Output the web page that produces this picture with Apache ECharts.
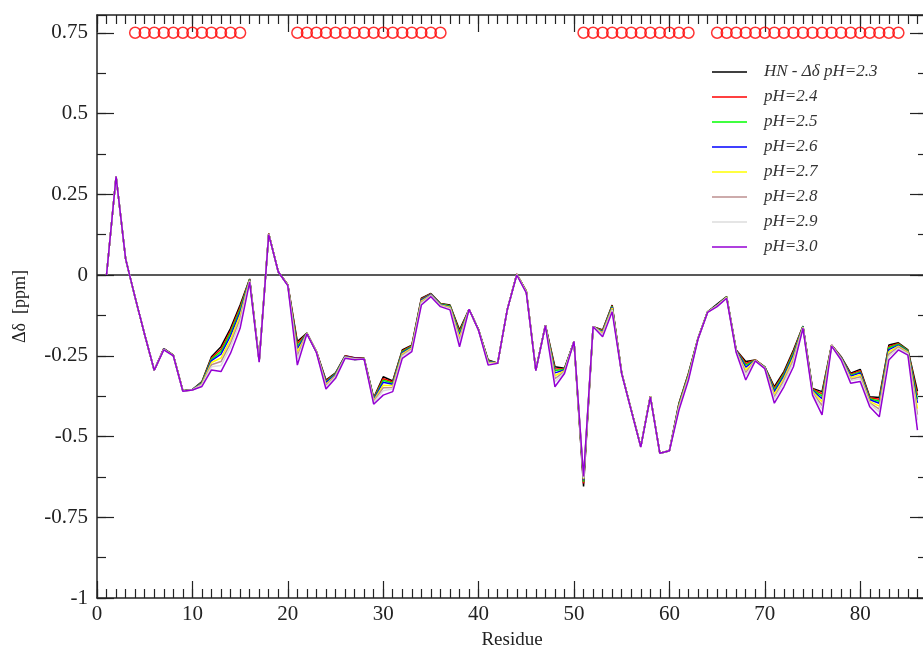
<!DOCTYPE html>
<html><head><meta charset="utf-8">
<script src="https://cdn.jsdelivr.net/npm/echarts/dist/echarts.min.js"></script>
<style>html,body{margin:0;padding:0;background:#fff}#c{width:923px;height:652px}</style>
</head><body><div id="c"></div>
<script>
const residues = [1,2,3,4,5,6,7,8,9,10,11,12,13,14,15,16,17,18,19,20,21,22,23,24,25,26,27,28,29,30,31,32,33,34,35,36,37,38,39,40,41,42,43,44,45,46,47,48,49,50,51,52,53,54,55,56,57,58,59,60,61,62,63,64,65,66,67,68,69,70,71,72,73,74,75,76,77,78,79,80,81,82,83,84,85,86];

const ph23 = [0.00,0.305,0.05,-0.07,-0.185,-0.295,-0.228,-0.248,-0.358,-0.355,
-0.33,-0.253,-0.222,-0.165,-0.093,-0.012,-0.265,0.128,0.01,-0.03,
-0.206,-0.18,-0.237,-0.325,-0.303,-0.25,-0.256,-0.258,-0.38,-0.315,
-0.328,-0.232,-0.217,-0.072,-0.057,-0.088,-0.093,-0.17,-0.106,-0.17,
-0.263,-0.273,-0.108,0.003,-0.05,-0.294,-0.155,-0.284,-0.289,-0.206,
-0.655,-0.16,-0.17,-0.093,-0.304,-0.418,-0.531,-0.375,-0.552,-0.544,
-0.397,-0.304,-0.196,-0.114,-0.09,-0.067,-0.232,-0.268,-0.263,-0.284,
-0.346,-0.299,-0.232,-0.158,-0.351,-0.361,-0.217,-0.253,-0.304,-0.292,
-0.377,-0.379,-0.217,-0.21,-0.232,-0.36];

const ph24 = [0,0.305,0.05,-0.07,-0.185,-0.295,-0.228,-0.248,-0.358,-0.355,
-0.332,-0.257,-0.230,-0.173,-0.100,-0.013,-0.266,0.128,0.01,-0.030,
-0.213,-0.18,-0.237,-0.328,-0.305,-0.251,-0.257,-0.258,-0.382,-0.321,
-0.331,-0.235,-0.219,-0.074,-0.058,-0.089,-0.095,-0.175,-0.106,-0.17,
-0.265,-0.273,-0.108,0.003,-0.05,-0.294,-0.155,-0.290,-0.291,-0.206,
-0.645,-0.16,-0.172,-0.095,-0.304,-0.418,-0.531,-0.375,-0.552,-0.544,
-0.399,-0.306,-0.196,-0.114,-0.095,-0.068,-0.233,-0.274,-0.263,-0.285,
-0.351,-0.304,-0.237,-0.159,-0.353,-0.368,-0.217,-0.254,-0.307,-0.296,
-0.380,-0.385,-0.222,-0.212,-0.234,-0.372];

const ph25 = [0,0.305,0.05,-0.07,-0.185,-0.295,-0.229,-0.248,-0.358,-0.355,
-0.333,-0.261,-0.237,-0.180,-0.107,-0.014,-0.266,0.127,0.01,-0.031,
-0.221,-0.18,-0.238,-0.331,-0.306,-0.252,-0.262,-0.258,-0.384,-0.326,
-0.335,-0.237,-0.221,-0.076,-0.059,-0.090,-0.096,-0.180,-0.106,-0.17,
-0.266,-0.273,-0.108,0.002,-0.051,-0.294,-0.155,-0.296,-0.292,-0.206,
-0.64,-0.16,-0.174,-0.097,-0.304,-0.418,-0.531,-0.376,-0.552,-0.544,
-0.401,-0.308,-0.196,-0.114,-0.094,-0.068,-0.234,-0.279,-0.264,-0.285,
-0.356,-0.308,-0.242,-0.159,-0.355,-0.375,-0.218,-0.255,-0.310,-0.300,
-0.383,-0.391,-0.226,-0.214,-0.235,-0.384];

const ph26 = [0,0.305,0.05,-0.07,-0.185,-0.295,-0.229,-0.249,-0.359,-0.355,
-0.335,-0.265,-0.245,-0.188,-0.115,-0.015,-0.267,0.127,0.01,-0.031,
-0.228,-0.181,-0.238,-0.333,-0.308,-0.252,-0.258,-0.259,-0.386,-0.332,
-0.338,-0.240,-0.223,-0.078,-0.060,-0.091,-0.098,-0.186,-0.106,-0.171,
-0.268,-0.273,-0.108,0.002,-0.052,-0.295,-0.156,-0.303,-0.294,-0.206,
-0.635,-0.16,-0.176,-0.099,-0.305,-0.419,-0.532,-0.376,-0.552,-0.544,
-0.403,-0.310,-0.197,-0.115,-0.093,-0.069,-0.234,-0.285,-0.264,-0.286,
-0.361,-0.313,-0.248,-0.160,-0.357,-0.383,-0.218,-0.256,-0.313,-0.303,
-0.386,-0.397,-0.231,-0.217,-0.237,-0.396];

const ph27 = [0,0.305,0.05,-0.07,-0.185,-0.295,-0.230,-0.249,-0.359,-0.356,
-0.337,-0.271,-0.257,-0.200,-0.125,-0.017,-0.267,0.127,0.01,-0.031,
-0.239,-0.181,-0.238,-0.338,-0.311,-0.254,-0.259,-0.259,-0.389,-0.341,
-0.343,-0.244,-0.226,-0.081,-0.062,-0.093,-0.100,-0.193,-0.106,-0.171,
-0.270,-0.273,-0.108,0.002,-0.052,-0.295,-0.156,-0.312,-0.296,-0.206,
-0.632,-0.16,-0.179,-0.102,-0.305,-0.419,-0.532,-0.376,-0.552,-0.544,
-0.406,-0.313,-0.197,-0.115,-0.094,-0.069,-0.236,-0.294,-0.264,-0.287,
-0.369,-0.320,-0.255,-0.161,-0.360,-0.393,-0.218,-0.258,-0.318,-0.309,
-0.391,-0.406,-0.238,-0.220,-0.239,-0.414];

const ph28 = [0,0.305,0.05,-0.07,-0.185,-0.295,-0.230,-0.249,-0.359,-0.356,
-0.339,-0.278,-0.268,-0.211,-0.136,-0.018,-0.268,0.126,0.01,-0.032,
-0.250,-0.181,-0.239,-0.342,-0.313,-0.255,-0.260,-0.259,-0.392,-0.349,
-0.348,-0.248,-0.229,-0.085,-0.063,-0.094,-0.102,-0.201,-0.106,-0.171,
-0.273,-0.273,-0.108,0.001,-0.053,-0.295,-0.156,-0.321,-0.299,-0.206,
-0.63,-0.16,-0.183,-0.106,-0.305,-0.419,-0.532,-0.377,-0.552,-0.544,
-0.410,-0.317,-0.197,-0.115,-0.095,-0.070,-0.237,-0.302,-0.265,-0.288,
-0.377,-0.327,-0.263,-0.162,-0.364,-0.404,-0.219,-0.259,-0.323,-0.315,
-0.396,-0.415,-0.245,-0.223,-0.242,-0.432];

const ph29 = [0,0.305,0.05,-0.07,-0.185,-0.295,-0.231,-0.25,-0.36,-0.356,
-0.341,-0.284,-0.280,-0.223,-0.147,-0.020,-0.269,0.126,0.01,-0.032,
-0.261,-0.182,-0.239,-0.346,-0.316,-0.256,-0.261,-0.26,-0.395,-0.358,
-0.353,-0.252,-0.232,-0.088,-0.065,-0.096,-0.104,-0.209,-0.106,-0.172,
-0.275,-0.273,-0.108,0.001,-0.054,-0.296,-0.157,-0.331,-0.301,-0.206,
-0.628,-0.16,-0.186,-0.109,-0.306,-0.42,-0.533,-0.377,-0.552,-0.544,
-0.413,-0.320,-0.198,-0.116,-0.096,-0.071,-0.238,-0.311,-0.265,-0.289,
-0.384,-0.334,-0.271,-0.163,-0.367,-0.415,-0.219,-0.261,-0.327,-0.321,
-0.400,-0.424,-0.252,-0.227,-0.244,-0.45];

const ph30 = [0,0.305,0.05,-0.07,-0.185,-0.295,-0.232,-0.25,-0.36,-0.356,
-0.345,-0.294,-0.299,-0.242,-0.165,-0.022,-0.27,0.125,0.01,-0.033,
-0.279,-0.182,-0.24,-0.353,-0.32,-0.258,-0.262,-0.26,-0.40,-0.372,
-0.361,-0.258,-0.237,-0.093,-0.067,-0.098,-0.108,-0.222,-0.106,-0.172,
-0.279,-0.273,-0.108,0.0,-0.055,-0.296,-0.157,-0.346,-0.305,-0.206,
-0.624,-0.16,-0.191,-0.114,-0.306,-0.42,-0.533,-0.378,-0.552,-0.544,
-0.418,-0.325,-0.198,-0.116,-0.098,-0.072,-0.24,-0.325,-0.266,-0.29,
-0.397,-0.346,-0.284,-0.165,-0.372,-0.433,-0.22,-0.263,-0.335,-0.33,
-0.408,-0.439,-0.263,-0.232,-0.248,-0.48];

const helixResidues = [4,5,6,7,8,9,10,11,12,13,14,15,
21,22,23,24,25,26,27,28,29,30,31,32,33,34,35,36,
51,52,53,54,55,56,57,58,59,60,61,62,
65,66,67,68,69,70,71,72,73,74,75,76,77,78,79,80,81,82,83,84];
const helixLevel = 0.75;

const seriesNames = ['HN - Δδ pH=2.3','pH=2.4','pH=2.5','pH=2.6','pH=2.7','pH=2.8','pH=2.9','pH=3.0'];
const seriesValues = [ph23, ph24, ph25, ph26, ph27, ph28, ph29, ph30];
const seriesColors = ['#000000','#ff0000','#00ff00','#0000ff','#ffff00','#bc8f8f','#dcdcdc','#9400d3'];

const X_MIN = 0, X_MAX = 87, Y_MIN = -1, Y_MAX = 0.805;
const FONT = '"Liberation Serif", "Times New Roman", serif';
const AX = '#222';

function xAxisDef(pos, major) {
  return {
    type: 'value', position: pos, min: X_MIN, max: X_MAX, interval: major ? 10 : 1,
    axisLine: { show: major, onZero: false, lineStyle: { color: AX, width: 1.5 } },
    axisTick: { show: true, inside: true, length: major ? 17 : 9, lineStyle: { color: AX, width: 1.2 } },
    splitLine: { show: false },
    axisLabel: { show: major && pos === 'bottom', showMaxLabel: false, color: AX, fontFamily: FONT, fontSize: 21, margin: 6 },
    name: (major && pos === 'bottom') ? 'Residue' : '',
    nameLocation: 'middle', nameGap: 33,
    nameTextStyle: { color: AX, fontFamily: FONT, fontSize: 19 }
  };
}
function yAxisDef(pos, major) {
  return {
    type: 'value', position: pos, min: Y_MIN, max: Y_MAX, interval: major ? 0.25 : 0.125,
    axisLine: { show: major, onZero: false, lineStyle: { color: AX, width: 1.5 } },
    axisTick: { show: true, inside: true, length: major ? 17 : 9, lineStyle: { color: AX, width: 1.2 } },
    splitLine: { show: false },
    axisLabel: { show: major && pos === 'left', showMaxLabel: false, color: AX, fontFamily: FONT, fontSize: 21, margin: 9 },
    name: (major && pos === 'left') ? 'Δδ  [ppm]' : '',
    nameLocation: 'middle', nameGap: 68, nameRotate: 90,
    nameTextStyle: { color: AX, fontFamily: FONT, fontSize: 18 }
  };
}

const series = seriesValues.map((vals, i) => ({
  name: seriesNames[i], type: 'line', xAxisIndex: 0, yAxisIndex: 0,
  data: residues.map((r, j) => [r, vals[j]]),
  showSymbol: false, symbol: 'none',
  lineStyle: { color: seriesColors[i], width: 1.5 },
  itemStyle: { color: seriesColors[i] },
  z: 3 + i, animation: false,
  markLine: i === 0 ? {
    silent: true, symbol: 'none', label: { show: false },
    lineStyle: { color: AX, width: 1.5, type: 'solid' },
    data: [{ yAxis: 0 }]
  } : undefined
}));
series.push({
  name: 'helix', type: 'scatter', xAxisIndex: 0, yAxisIndex: 0,
  data: helixResidues.map(r => [r, helixLevel]),
  symbol: 'circle', symbolSize: 11,
  itemStyle: { color: 'rgba(255,255,255,0)', borderColor: '#ff0000', borderWidth: 1.5 },
  z: 20, animation: false, silent: true
});

const chart = echarts.init(document.getElementById('c'), null, { renderer: 'canvas' });
chart.setOption({
  animation: false,
  backgroundColor: '#fff',
  grid: { left: 97, top: 15, width: 830, height: 583, containLabel: false, outerBoundsMode: 'none' },
  xAxis: [xAxisDef('bottom', true), xAxisDef('bottom', false), xAxisDef('top', true), xAxisDef('top', false)],
  yAxis: [yAxisDef('left', true), yAxisDef('left', false), yAxisDef('right', true), yAxisDef('right', false)],
  legend: {
    data: seriesNames, orient: 'vertical', left: 707, top: 57,
    icon: 'rect', itemWidth: 35, itemHeight: 1.5, itemGap: 5,
    textStyle: { fontFamily: FONT, fontStyle: 'italic', fontSize: 17, color: '#333', lineHeight: 20, padding: [0, 0, 0, 12] },
    selectedMode: false
  },
  series: series
});
</script>
</body></html>
